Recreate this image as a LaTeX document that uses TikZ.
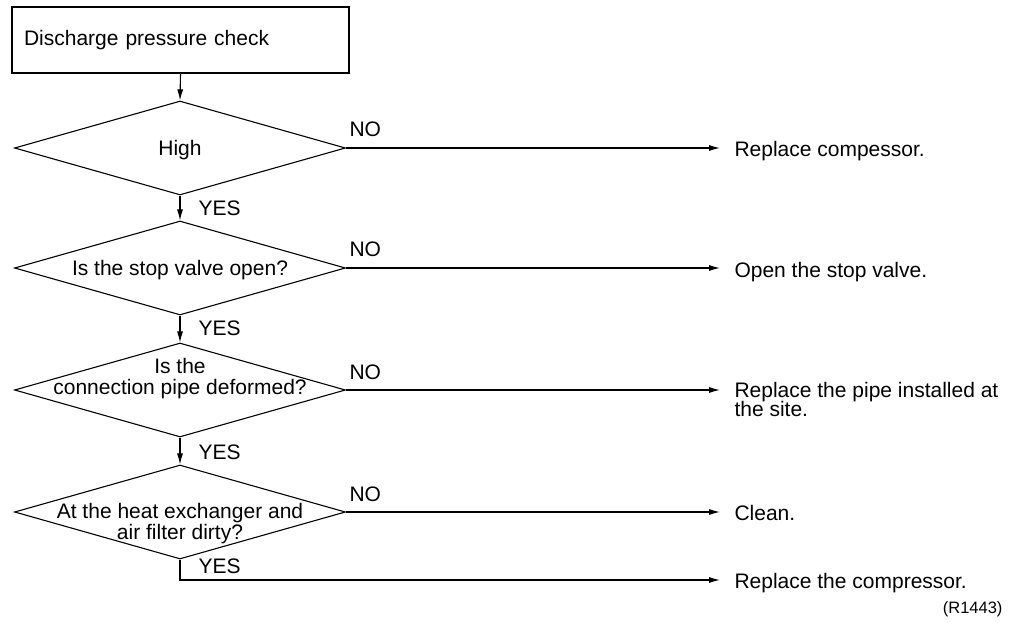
\documentclass[tikz,border=0pt]{standalone}
\usepackage{fontspec}
\setmainfont{Liberation Sans}
\usetikzlibrary{shapes.geometric,arrows.meta}
\begin{document}
\begin{tikzpicture}[x=1pt,y=-1pt,
  line width=1.1pt,
  every node/.style={font=\fontsize{21}{21}\selectfont},
  startbox/.style={draw,rectangle,minimum height=66pt,text width=313pt,inner xsep=12pt,inner ysep=0pt,align=left},
  decision/.style={draw,diamond,minimum width=331pt,minimum height=94pt,inner sep=0pt},
  txt/.style={anchor=base,inner sep=0pt},
  lbl/.style={anchor=base west,inner sep=0pt},
  res/.style={anchor=base west,inner sep=0pt,align=left},
  flow/.style={-{Latex[length=11pt,width=6pt]},line width=1.1pt}
]
\useasboundingbox (0,0) rectangle (1013,623);
\fill[white] (0,0) rectangle (1013,623);

\node[startbox] (start) at (180.5,40) {Discharge pressure check};

\node[decision] (d1) at (180,148) {};
\node[decision] (d2) at (180,268) {};
\node[decision] (d3) at (180,390) {};
\node[decision] (d4) at (180,512) {};

\node[txt] (t1) at (180,156) {High};
\node[txt] (t2) at (180,276) {Is the stop valve open?};
\node[txt] (t3a) at (180,373) {Is the};
\node[txt] (t3b) at (180,394) {connection pipe deformed?};
\node[txt] (t4a) at (180,518) {At the heat exchanger and};
\node[txt] (t4b) at (180,539) {air filter dirty?};

\node[lbl] (y1) at (198,215) {YES};
\node[lbl] (y2) at (198,335) {YES};
\node[lbl] (y3) at (198,459) {YES};
\node[lbl] (y4) at (198,573) {YES};

\node[lbl] (n1) at (349,137) {NO};
\node[lbl] (n2) at (349,257) {NO};
\node[lbl] (n3) at (349,379) {NO};
\node[lbl] (n4) at (349,501) {NO};

\coordinate (a1) at (720,148);
\coordinate (a2) at (720,268);
\coordinate (a3) at (720,390);
\coordinate (a4) at (720,512);
\coordinate (a5) at (720,580);
\coordinate (c5) at (180,580);

\node[res] (r1) at (734,157) {Replace compessor.};
\node[res] (r2) at (734,277) {Open the stop valve.};
\node[res] (r3a) at (734,397) {Replace the pipe installed at};
\node[res] (r3b) at (734,416) {the site.};
\node[res] (r4) at (734,520) {Clean.};
\node[res] (r5) at (734,588) {Replace the compressor.};

\node[anchor=base east,inner sep=0pt,font=\fontsize{16.5}{16.5}\selectfont] (ref) at (1003,613) {(R1443)};

\draw[flow] (start.south) -- (d1.north);
\draw[flow] (d1.south) -- (d2.north);
\draw[flow] (d2.south) -- (d3.north);
\draw[flow] (d3.south) -- (d4.north);

\draw[flow] (d1.east) -- (a1);
\draw[flow] (d2.east) -- (a2);
\draw[flow] (d3.east) -- (a3);
\draw[flow] (d4.east) -- (a4);
\draw[flow] (d4.south) -- (c5) -- (a5);
\end{tikzpicture}
\end{document}
